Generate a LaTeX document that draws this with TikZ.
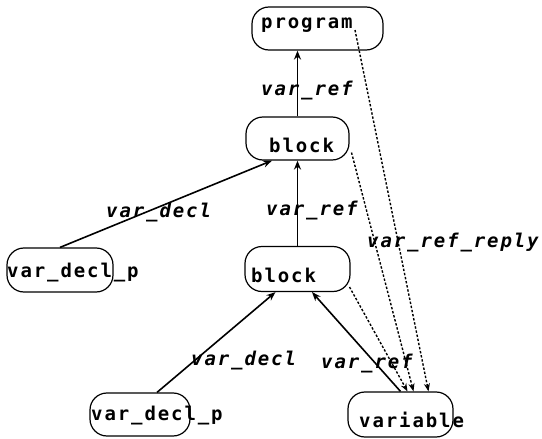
\documentclass[tikz,border=0pt]{standalone}
\usepackage{fontspec}
\newfontfamily\nodefont{DejaVu Sans Mono}[LetterSpace=10]
\usetikzlibrary{arrows.meta}
\begin{document}
\begin{tikzpicture}[x=1pt,y=-1pt,
  box/.style={draw,line width=1.2pt,rounded corners=17pt,inner sep=0pt},
  txt/.style={anchor=base west,inner sep=0pt,font=\nodefont\bfseries\fontsize{19}{20}\selectfont},
  lbl/.style={anchor=base west,inner sep=0pt,font=\nodefont\bfseries\itshape\fontsize{19}{20}\selectfont},
  solidarrow/.style={line width=1.6pt,-{Stealth[length=9pt,width=7pt]}},
  dotarrow/.style={line width=1.4pt,dash pattern=on 2.4pt off 1.8pt,-{Stealth[length=8pt,width=6pt]}}]
\useasboundingbox (0,0) rectangle (542,439);
% boxes
\node[box,minimum width=131pt,minimum height=43pt] (program) at (317.5,28.5) {};
\node[box,minimum width=103pt,minimum height=43pt] (block1) at (297.5,138.5) {};
\node[box,minimum width=106pt,minimum height=44pt] (vdl) at (60,270) {};
\node[box,minimum width=105pt,minimum height=45pt] (block2) at (297.5,269) {};
\node[box,minimum width=100pt,minimum height=43pt] (vdb) at (140,414.5) {};
\node[box,minimum width=105pt,minimum height=45pt] (variable) at (400.5,414.5) {};
% texts
\node[txt] (programt) at (261,28) {program};
\node[txt] (block1t) at (269,152) {block};
\node[txt] (vdlt) at (7,277) {var\_decl\_p};
\node[txt] (block2t) at (251,282) {block};
\node[txt] (vdbt) at (91,420) {var\_decl\_p};
\node[txt] (variablet) at (359,427) {variable};
% solid connectors
\draw[solidarrow] (block1.north) -- (block1.north |- program.south);
\draw[solidarrow] (block2.north) -- (block1.south);
\draw[solidarrow] (vdl.north) -- ([xshift=-25.5pt]block1.south);
\draw[solidarrow] ([xshift=17pt]vdb.north) -- ([xshift=-22pt]block2.south);
\draw[solidarrow] (variable.north) -- ([xshift=14.5pt]block2.south);
% dotted connectors
\draw[dotarrow] ([xshift=37.5pt,yshift=-1.5pt]program.center) -- ([xshift=28pt]variable.north);
\draw[dotarrow] ([xshift=54pt,yshift=-14pt]block1.center) -- ([xshift=13pt]variable.north);
\draw[dotarrow] ([xshift=52pt,yshift=-18pt]block2.center) -- ([xshift=7pt]variable.north);
% labels
\node[lbl] (l1) at (261,95) {var\_ref};
\node[lbl] (l2) at (266,215) {var\_ref};
\node[lbl] (l3) at (367,247) {var\_ref\_reply};
\node[lbl] (l4) at (106,217) {var\_decl};
\node[lbl] (l5) at (191,365) {var\_decl};
\node[lbl] (l6) at (321,368) {var\_ref};
\end{tikzpicture}
\end{document}
